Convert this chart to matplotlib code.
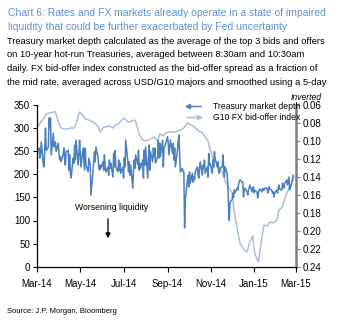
import numpy as np
import pandas as pd
import matplotlib
matplotlib.use("Agg")
import matplotlib.pyplot as plt
import matplotlib.dates as mdates

plt.rcParams["font.family"] = ["Liberation Sans", "DejaVu Sans"]

# Treasury market depth, one value per business day from 3 Mar 2014 (left axis)
depth = [252, 257, 235, 245, 270, 220, 216, 257, 300, 252, 259, 322, 302, 322, 242, 289,
         259, 265, 270, 249, 267, 245, 231, 238, 227, 245, 257, 231, 220, 249, 252, 209,
         242, 202, 192, 235, 224, 263, 231, 274, 220, 242, 274, 245, 216, 257, 231, 209,
         257, 220, 205, 235, 227, 220, 155, 209, 227, 249, 227, 259, 238, 216, 209, 220,
         213, 227, 209, 242, 216, 205, 216, 198, 231, 213, 224, 194, 245, 216, 252, 216,
         205, 231, 209, 224, 202, 216, 192, 235, 216, 274, 227, 205, 227, 198, 220, 170,
         209, 231, 213, 242, 220, 252, 209, 224, 213, 231, 192, 252, 220, 259, 192, 231,
         263, 209, 249, 227, 257, 238, 257, 224, 238, 274, 235, 267, 238, 274, 216, 257,
         260, 265, 281, 267, 242, 257, 274, 245, 267, 231, 257, 216, 252, 274, 285, 245,
         205, 213, 205, 205, 84, 144, 188, 198, 173, 205, 181, 202, 183, 194, 188, 205,
         216, 198, 192, 213, 227, 198, 220, 213, 231, 202, 216, 194, 245, 220, 224, 202,
         231, 216, 249, 235, 216, 227, 205, 202, 213, 216, 242, 216, 194, 216, 202, 173,
         130, 100, 140, 145, 159, 150, 166, 160, 170, 166, 177, 185, 188, 183, 183, 151,
         165, 170, 162, 155, 166, 170, 177, 162, 168, 173, 160, 165, 162, 149, 160, 166,
         168, 162, 170, 165, 166, 170, 170, 160, 162, 173, 168, 166, 159, 162, 151, 160,
         166, 159, 170, 177, 168, 166, 181, 172, 170, 180, 188, 177, 185, 194, 166, 180,
         188, 198]

# G10 FX bid-offer index, every third business day (right axis, inverted)
fx = [0.0834, 0.0789, 0.0745, 0.0700, 0.0689, 0.0678, 0.0678, 0.0811, 0.0856, 0.0867,
      0.0867, 0.0856, 0.0856, 0.0811, 0.0678, 0.0722, 0.0756, 0.0767, 0.0778, 0.0800,
      0.0834, 0.0900, 0.0845, 0.0845, 0.0834, 0.0856, 0.0823, 0.0811, 0.0778, 0.0745,
      0.0789, 0.0789, 0.0767, 0.0778, 0.0923, 0.0990, 0.1001, 0.0990, 0.0978, 0.0956,
      0.1001, 0.0923, 0.0945, 0.0912, 0.0900, 0.0900, 0.0900, 0.0889, 0.0878, 0.0856,
      0.0800, 0.0811, 0.0834, 0.0856, 0.0889, 0.0912, 0.0945, 0.1001, 0.1101, 0.1212,
      0.1257, 0.1290, 0.1357, 0.1446, 0.1513, 0.1580, 0.1791, 0.2014, 0.2136, 0.2203,
      0.2236, 0.2147, 0.2058, 0.2258, 0.2347, 0.2069, 0.1936, 0.1947, 0.1902, 0.1913,
      0.1880, 0.1769, 0.1735, 0.1646, 0.1546, 0.1457, 0.1401]

bdays = pd.bdate_range("2014-03-03", periods=270)
depth_dates = bdays[:len(depth)]
fx_dates = bdays[::3][:len(fx)]

left_ticks = list(range(0, 351, 50))
right_ticks = [0.06, 0.08, 0.10, 0.12, 0.14, 0.16, 0.18, 0.20, 0.22, 0.24]

title_lines = ["Chart 6: Rates and FX markets already operate in a state of impaired",
               "liquidity that could be further exacerbated by Fed uncertainty"]
sub_lines = ["Treasury market depth calculated as the average of the top 3 bids and offers",
             "on 10-year hot-run Treasuries, averaged between 8:30am and 10:30am",
             "daily. FX bid-offer index constructed as the bid-offer spread as a fraction of",
             "the mid rate, averaged across USD/G10 majors and smoothed using a 5-day"]

W, H = 353, 329
dark = "#4A80BE"
light = "#A9BEDB"
title_col = "#5B93D0"

fig = plt.figure(figsize=(W / 100, H / 100), dpi=100)
renderer = fig.canvas.get_renderer()


def px(x, y):
    return x / W, 1 - y / H


def fit(t, width):
    # shrink a text so it spans about `width` pixels (the source used a narrow face)
    w = t.get_window_extent(renderer).width
    t.set_fontsize(t.get_fontsize() * width / w)
    return t.get_fontsize()


t0 = fig.text(*px(8, 16), title_lines[0], color=title_col, fontsize=9.4, va="baseline")
fs = fit(t0, 317)
fig.text(*px(8, 30), title_lines[1], color=title_col, fontsize=fs, va="baseline")

s0 = fig.text(*px(7, 43.5), sub_lines[0], fontsize=7.7, va="baseline")
fs = fit(s0, 321)
for i, t in enumerate(sub_lines[1:], start=1):
    fig.text(*px(7, 43.5 + 13.9 * i), t, fontsize=fs, va="baseline")

src = fig.text(*px(7, 313), "Source: J.P. Morgan, Bloomberg", fontsize=6.3, va="baseline")
fit(src, 110)
inv = fig.text(*px(306, 97.5), "Inverted", fontsize=6.5, style="italic", ha="center", va="center")
fit(inv, 31)

ax = fig.add_axes([37 / W, 1 - 266.7 / H, (296 - 37) / W, (266.7 - 105) / H])
ax2 = ax.twinx()

ax.plot(depth_dates, depth, color=dark, lw=1.1, zorder=3)
ax2.plot(fx_dates, fx, color=light, lw=1.1, zorder=2)
ax.set_zorder(ax2.get_zorder() + 1)
ax.patch.set_visible(False)

ax.set_ylim(0, 350)
ax.set_yticks(left_ticks)
ax2.set_ylim(0.24, 0.06)
ax2.set_yticks(right_ticks)
ax2.set_yticklabels([f"{v:.2f}" for v in right_ticks])

ax.set_xlim(pd.Timestamp("2014-03-01"), pd.Timestamp("2015-03-01"))
ax.xaxis.set_major_locator(mdates.MonthLocator(bymonth=[1, 3, 5, 7, 9, 11]))
ax.xaxis.set_major_formatter(mdates.DateFormatter("%b-%y"))

for a in (ax, ax2):
    a.spines["top"].set_visible(False)
ax.spines["right"].set_visible(False)
ax2.spines["left"].set_visible(False)
ax2.spines["bottom"].set_visible(False)
ax.spines["left"].set_linewidth(0.9)
ax.spines["bottom"].set_linewidth(0.9)
ax2.spines["right"].set_color("#7F7F7F")
ax2.spines["right"].set_linewidth(1.8)

ax.tick_params(axis="y", length=3, width=0.8, pad=2, labelsize=7)
ax.tick_params(axis="x", length=3.5, width=0.8, pad=5, labelsize=7)
ax2.tick_params(axis="y", length=3, width=0.8, pad=2, labelsize=7, color="#7F7F7F")

# legend drawn by hand: arrow handles
ax.annotate("", xy=px(182, 106.5), xycoords="figure fraction", xytext=px(204, 106.5),
            textcoords="figure fraction",
            arrowprops=dict(arrowstyle="-|>", color=dark, lw=1.1, mutation_scale=7))
ax.annotate("", xy=px(206, 117.5), xycoords="figure fraction", xytext=px(184, 117.5),
            textcoords="figure fraction",
            arrowprops=dict(arrowstyle="-|>", color=light, lw=1.1, mutation_scale=7))
l1 = fig.text(*px(213, 106.5), "Treasury market depth", fontsize=7.2, va="center")
fs = fit(l1, 86)
fig.text(*px(213, 117.5), "G10 FX bid-offer index", fontsize=fs, va="center")

# worsening liquidity marker
wl = fig.text(*px(112, 208), "Worsening liquidity", ha="center", va="center", fontsize=7.2)
fit(wl, 72)
ax.annotate("", xy=px(108, 241), xycoords="figure fraction", xytext=px(108, 216),
            textcoords="figure fraction",
            arrowprops=dict(arrowstyle="-|>", color="black", lw=0.9, mutation_scale=7))

fig.savefig("out.png", dpi=100)
